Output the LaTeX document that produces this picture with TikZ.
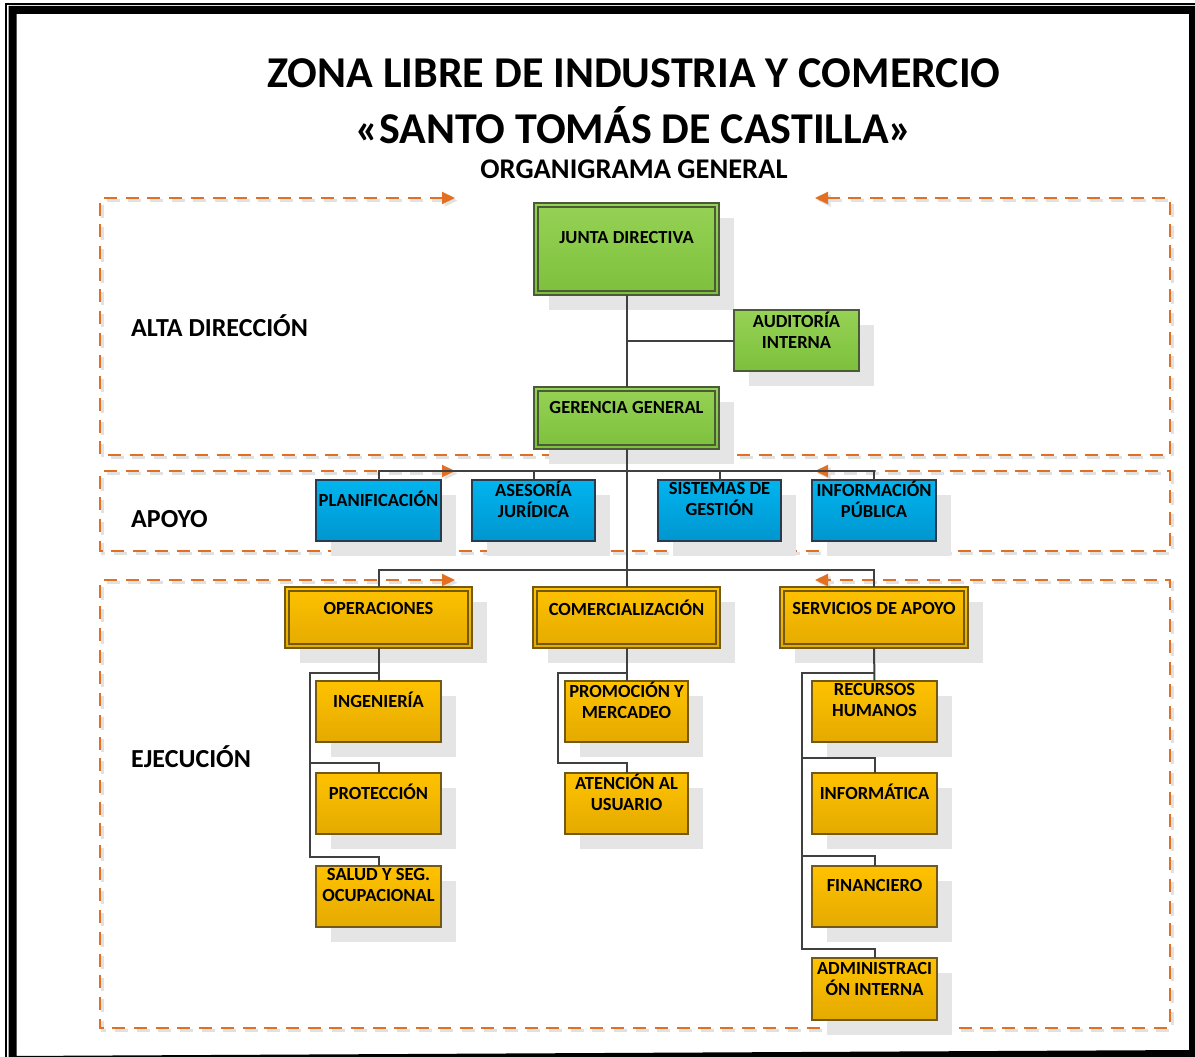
\documentclass[tikz,border=0pt]{standalone}
\usepackage{fontspec}
\setmainfont{Carlito}
\usetikzlibrary{arrows.meta,calc}
\definecolor{grnT}{RGB}{150,210,85}
\definecolor{grnB}{RGB}{125,192,60}
\definecolor{grnD}{RGB}{75,90,55}
\definecolor{yelT}{RGB}{255,194,0}
\definecolor{yelB}{RGB}{228,170,0}
\definecolor{yelD}{RGB}{115,90,20}
\definecolor{bluT}{RGB}{0,180,238}
\definecolor{bluB}{RGB}{0,150,208}
\definecolor{bluD}{RGB}{40,60,80}
\definecolor{orng}{RGB}{225,112,35}
\definecolor{shd}{RGB}{229,229,229}
\definecolor{dshd}{RGB}{225,225,225}
\definecolor{conn}{RGB}{64,64,64}
\tikzset{
  boxbase/.style={rectangle, inner sep=0pt, outer sep=0pt, line width=1.3pt},
  grnbox/.style={boxbase, draw=grnD, top color=grnT, bottom color=grnB},
  yelbox/.style={boxbase, draw=yelD, top color=yelT, bottom color=yelB},
  blubox/.style={boxbase, draw=bluD, top color=bluT, bottom color=bluB},
  txt/.style={font=\fontsize{18.5}{21}\selectfont\bfseries, align=center, inner sep=0pt, text=black},
  reglabel/.style={font=\fontsize{26}{30}\selectfont\bfseries, anchor=west, inner sep=0pt},
  conn/.style={draw=conn, line width=2pt},
  regline/.style={draw=orng, line width=2.2pt, dash pattern=on 13pt off 8.7pt,
    {Triangle[length=13pt,width=12pt]}-{Triangle[length=13pt,width=12pt]}},
  regshadow/.style={draw=dshd, line width=2.2pt, dash pattern=on 13pt off 8.7pt,
    {Triangle[length=13pt,width=12pt]}-{Triangle[length=13pt,width=12pt]}},
}
% #1 name, #2 style, #3 x1, #4 y1, #5 x2, #6 y2, #7 text offset, #8 text
\newcommand\orgbox[8]{%
  \fill[shd] (#3+15,#4+15) rectangle (#5+15,#6+15);
  \node[#2, anchor=north west, minimum width={(#5-#3)*1pt}, minimum height={(#6-#4)*1pt}] (#1) at (#3,#4) {};
  \node[txt] (#1t) at ($(#1.north)+(0,#7)$) {#8};
}
\newcommand\orgboxd[9]{%
  \orgbox{#1}{#2}{#3}{#4}{#5}{#6}{#7}{#8}%
  \draw[draw=#9, line width=1.1pt] ($(#1.north west)+(4,4)$) rectangle ($(#1.south east)+(-4,-4)$);
}
\begin{document}
\begin{tikzpicture}[x=1pt,y=-1pt]
\useasboundingbox (0,0) rectangle (1195,1057);
% page frame
\draw[line width=8pt] (12.7,1060) -- (12.7,10) -- (1193,10) -- (1193,1054) -- cycle;
\draw[line width=1.4pt] (6,1060) -- (6,4) -- (1200,4);

% title
\node[font=\fontsize{44}{52}\selectfont\bfseries, inner sep=0pt] (t1) at (634,73) {ZONA LIBRE DE INDUSTRIA Y COMERCIO};
\node[font=\fontsize{44}{52}\selectfont\bfseries, inner sep=0pt] (t2) at (634,125) {«SANTO TOMÁS DE CASTILLA»};
\node[font=\fontsize{28.5}{32}\selectfont\bfseries, inner sep=0pt] (t3) at (634,169) {ORGANIGRAMA GENERAL};

% region frames (shadow, then line)
\begin{scope}[shift={(2.5,2.5)}]
\draw[regshadow] (455,198) -- (100,198) -- (100,455) -- (1170,455) -- (1170,198) -- (815,198);
\draw[regshadow] (455,471) -- (100,471) -- (100,551) -- (1170,551) -- (1170,471) -- (815,471);
\draw[regshadow] (455,580) -- (100,580) -- (100,1028) -- (1170,1028) -- (1170,580) -- (815,580);
\end{scope}
\draw[regline] (455,198) -- (100,198) -- (100,455) -- (1170,455) -- (1170,198) -- (815,198);
\draw[regline] (455,471) -- (100,471) -- (100,551) -- (1170,551) -- (1170,471) -- (815,471);
\draw[regline] (455,580) -- (100,580) -- (100,1028) -- (1170,1028) -- (1170,580) -- (815,580);

\node[reglabel] (la) at (131,326) {ALTA DIRECCIÓN};
\node[reglabel] (lb) at (131,519) {APOYO};
\node[reglabel] (lc) at (131,757) {EJECUCIÓN};

% boxes (each with its shadow)
\orgboxd{jd}{grnbox}{534}{203}{719}{295}{35}{JUNTA DIRECTIVA}{grnD}
\orgbox{aud}{grnbox}{734}{310}{859}{371}{20}{AUDITORÍA\\INTERNA}
\orgboxd{gg}{grnbox}{534}{387}{719}{449}{20}{GERENCIA GENERAL}{grnD}

\orgbox{pla}{blubox}{316}{480}{441}{541}{19}{PLANIFICACIÓN}
\orgbox{ase}{blubox}{472}{480}{595}{541}{19}{ASESORÍA\\JURÍDICA}
\orgbox{sis}{blubox}{658}{480}{781}{541}{19}{SISTEMAS DE\\GESTIÓN}
\orgbox{inf}{blubox}{812}{480}{936}{541}{19}{INFORMACIÓN\\PÚBLICA}

\orgboxd{ope}{yelbox}{285}{587}{472}{648}{21}{OPERACIONES}{yelD}
\orgboxd{com}{yelbox}{533}{587}{720}{648}{21}{COMERCIALIZACIÓN}{yelD}
\orgboxd{ser}{yelbox}{780}{587}{968}{648}{21}{SERVICIOS DE APOYO}{yelD}

\orgbox{ing}{yelbox}{316}{681}{441}{742}{19}{INGENIERÍA}
\orgbox{pro}{yelbox}{316}{773}{441}{834}{19}{PROTECCIÓN}
\orgbox{sal}{yelbox}{316}{866}{441}{927}{19}{SALUD Y SEG.\\OCUPACIONAL}

\orgbox{prm}{yelbox}{565}{681}{688}{742}{19}{PROMOCIÓN Y\\MERCADEO}
\orgbox{ate}{yelbox}{565}{773}{688}{834}{19}{ATENCIÓN AL\\USUARIO}

\orgbox{rh}{yelbox}{812}{681}{937}{742}{19}{RECURSOS\\HUMANOS}
\orgbox{infm}{yelbox}{812}{773}{937}{834}{19}{INFORMÁTICA}
\orgbox{fin}{yelbox}{812}{866}{937}{927}{19}{FINANCIERO}
\orgbox{adm}{yelbox}{812}{958}{937}{1020}{21}{ADMINISTRACI\\ÓN INTERNA}

% connectors
\coordinate (j1) at (jd.south |- aud.west);
\draw[conn] (jd.south) -- (gg.north);
\draw[conn] (j1) -- (aud.west);
\draw[conn] (gg.south) -- (com.north);

\coordinate (b1) at (627,471);
\draw[conn] (pla.north) -- (pla.north |- b1) -- (inf.north |- b1) -- (inf.north);
\draw[conn] (ase.north) -- (ase.north |- b1);
\draw[conn] (sis.north) -- (sis.north |- b1);

\coordinate (b2) at (627,570);
\draw[conn] (ope.north) -- (ope.north |- b2) -- (ser.north |- b2) -- (ser.north);

\coordinate (o1) at (310,673);
\coordinate (o2) at (310,763);
\coordinate (o3) at (310,857);
\draw[conn] (ope.south) -- (ing.north);
\draw[conn] (ope.south |- o1) -- (o1) -- (o3) -| (sal.north);
\draw[conn] (o2) -| (pro.north);

\coordinate (c1) at (558,673);
\coordinate (c2) at (558,763);
\draw[conn] (com.south) -- (prm.north);
\draw[conn] (com.south |- c1) -- (c1) -- (c2) -| (ate.north);

\coordinate (s1) at (802,673);
\coordinate (s2) at (802,758);
\coordinate (s3) at (802,856);
\coordinate (s4) at (802,949);
\draw[conn] (ser.south) -- (rh.north);
\draw[conn] (ser.south |- s1) -- (s1) -- (s4) -| (adm.north);
\draw[conn] (s2) -| (infm.north);
\draw[conn] (s3) -| (fin.north);
\end{tikzpicture}
\end{document}
